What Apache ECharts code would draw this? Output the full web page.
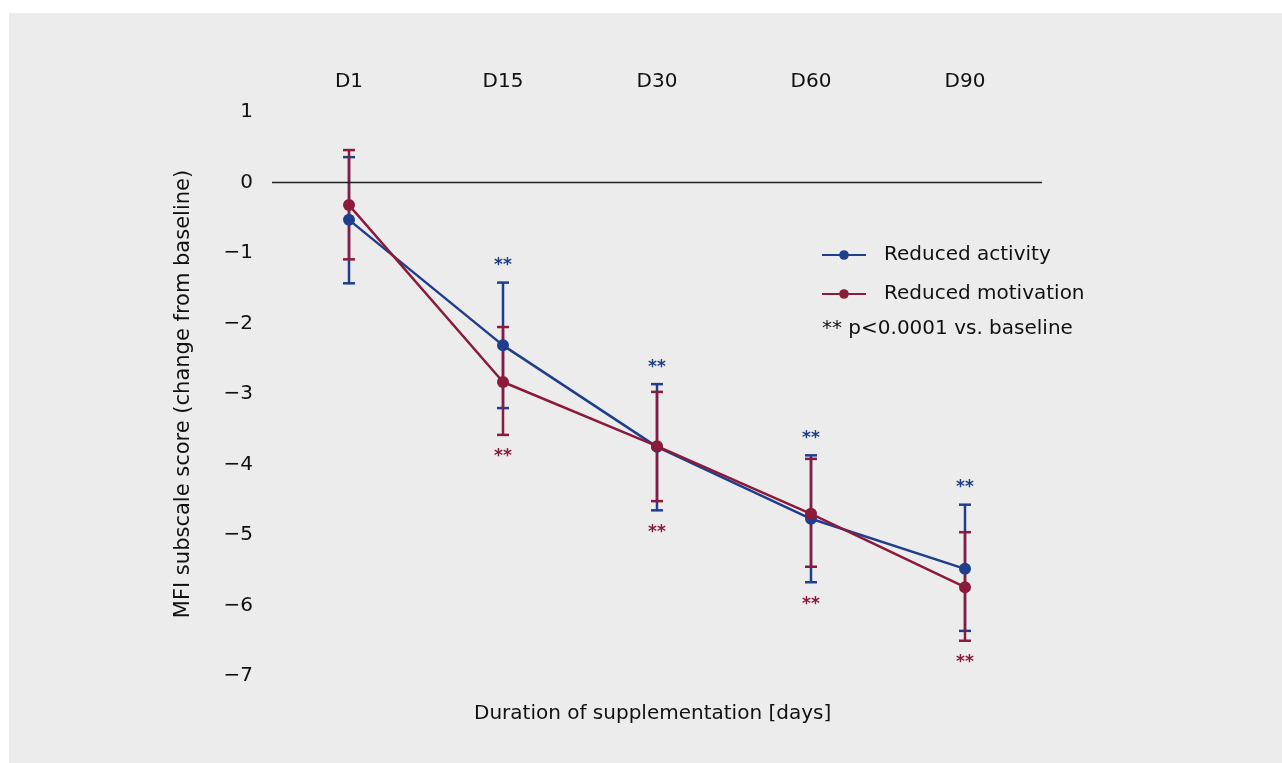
<!DOCTYPE html>
<html>
<head>
<meta charset="utf-8">
<script src="https://cdn.jsdelivr.net/npm/echarts@6/dist/echarts.min.js"></script>
<style>
html,body{margin:0;padding:0;background:#ffffff;}
#wrap{position:absolute;left:9px;top:13px;right:0;bottom:0;background:#ececec;}
#chart{position:absolute;left:0;top:0;width:1282px;height:763px;}
</style>
</head>
<body>
<div id="wrap"></div>
<div id="chart"></div>
<script>
const categories = ['D1', 'D15', 'D30', 'D60', 'D90'];
const yTicks = [1, 0, -1, -2, -3, -4, -5, -6, -7];

const activityMean = [-0.53, -2.31, -3.75, -4.77, -5.48];
const activityUpper = [0.36, -1.42, -2.86, -3.87, -4.57];
const activityLower = [-1.43, -3.20, -4.65, -5.67, -6.36];

const motivationMean = [-0.32, -2.83, -3.74, -4.70, -5.74];
const motivationUpper = [0.46, -2.05, -2.97, -3.92, -4.96];
const motivationLower = [-1.09, -3.58, -4.52, -5.45, -6.50];

const activitySig = ['', '**', '**', '**', '**'];
const motivationSig = ['', '**', '**', '**', '**'];

const BLUE = '#1f3f8c';
const RED = '#8b1a3b';
const FONT = '"DejaVu Sans", sans-serif';

// stars sit above the highest cap (activity) or below the lowest cap (motivation)
const starTop = categories.map((c, i) => Math.max(activityUpper[i], motivationUpper[i]));
const starBottom = categories.map((c, i) => Math.min(activityLower[i], motivationLower[i]));

function errSeries(name, upper, lower, sig, anchor, color, sigAbove) {
  return {
    type: 'custom',
    name: name + ' err',
    z: 3,
    silent: true,
    data: categories.map((c, i) => [i, upper[i], lower[i], anchor[i]]),
    renderItem: function (params, api) {
      const x = api.value(0);
      const top = api.coord([x, api.value(1)]);
      const bot = api.coord([x, api.value(2)]);
      const anc = api.coord([x, api.value(3)]);
      const hw = 6;
      const style = { stroke: color, lineWidth: 2.5 };
      const children = [
        { type: 'line', shape: { x1: top[0], y1: top[1], x2: bot[0], y2: bot[1] }, style: style },
        { type: 'line', shape: { x1: top[0] - hw, y1: top[1], x2: top[0] + hw, y2: top[1] }, style: style },
        { type: 'line', shape: { x1: bot[0] - hw, y1: bot[1], x2: bot[0] + hw, y2: bot[1] }, style: style }
      ];
      const s = sig[params.dataIndex];
      if (s) {
        children.push({
          type: 'text',
          style: {
            text: s, x: anc[0], y: sigAbove ? anc[1] - 17 : anc[1] + 22,
            align: 'center', verticalAlign: 'middle',
            fill: color, font: 'bold 17px ' + FONT
          }
        });
      }
      return { type: 'group', children: children };
    }
  };
}

const chart = echarts.init(document.getElementById('chart'), null, { renderer: 'canvas' });
chart.setOption({
  backgroundColor: 'transparent',
  animation: false,
  textStyle: { fontFamily: FONT },
  grid: { left: 272, right: 240, top: 112, bottom: 87, containLabel: false },
  xAxis: {
    type: 'category',
    position: 'top',
    data: categories,
    boundaryGap: true,
    axisLine: { show: false },
    axisTick: { show: false },
    axisLabel: { color: '#111', fontSize: 20, margin: 20, fontFamily: FONT }
  },
  yAxis: {
    type: 'value',
    min: -7, max: 1, interval: 1,
    axisLine: { show: false },
    axisTick: { show: false },
    splitLine: { show: false },
    axisLabel: {
      color: '#111', fontSize: 20, margin: 19, fontFamily: FONT,
      formatter: function (v) { return yTicks.indexOf(v) >= 0 ? String(v).replace('-', '\u2212') : ''; }
    },
    name: 'MFI subscale score (change from baseline)',
    nameLocation: 'middle',
    nameGap: 78,
    nameTextStyle: { color: '#111', fontSize: 21, fontFamily: FONT }
  },
  legend: {
    orient: 'vertical',
    left: 816, top: 240,
    itemWidth: 44, itemHeight: 12,
    itemGap: 19,
    data: ['Reduced activity', 'Reduced motivation'],
    textStyle: { color: '#111', fontSize: 20, fontFamily: FONT, padding: [0, 0, 0, 13] }
  },
  graphic: [
    {
      type: 'text', left: 822, top: 319,
      style: { text: '** p<0.0001 vs. baseline', fill: '#111', font: '20px ' + FONT }
    },
    {
      type: 'text', left: 474, top: 704,
      style: { text: 'Duration of supplementation [days]', fill: '#111', font: '20px ' + FONT }
    }
  ],
  series: [
    errSeries('Reduced activity', activityUpper, activityLower, activitySig, starTop, BLUE, true),
    errSeries('Reduced motivation', motivationUpper, motivationLower, motivationSig, starBottom, RED, false),
    {
      name: 'Reduced activity', type: 'line', data: activityMean, z: 4,
      symbol: 'circle', symbolSize: 12,
      lineStyle: { color: BLUE, width: 2.5 }, itemStyle: { color: BLUE },
      markLine: {
        silent: true, symbol: 'none', label: { show: false },
        lineStyle: { color: '#222', width: 1.3, type: 'solid' },
        data: [{ yAxis: 0 }]
      }
    },
    {
      name: 'Reduced motivation', type: 'line', data: motivationMean, z: 5,
      symbol: 'circle', symbolSize: 12,
      lineStyle: { color: RED, width: 2.5 }, itemStyle: { color: RED }
    }
  ]
});
</script>
</body>
</html>
